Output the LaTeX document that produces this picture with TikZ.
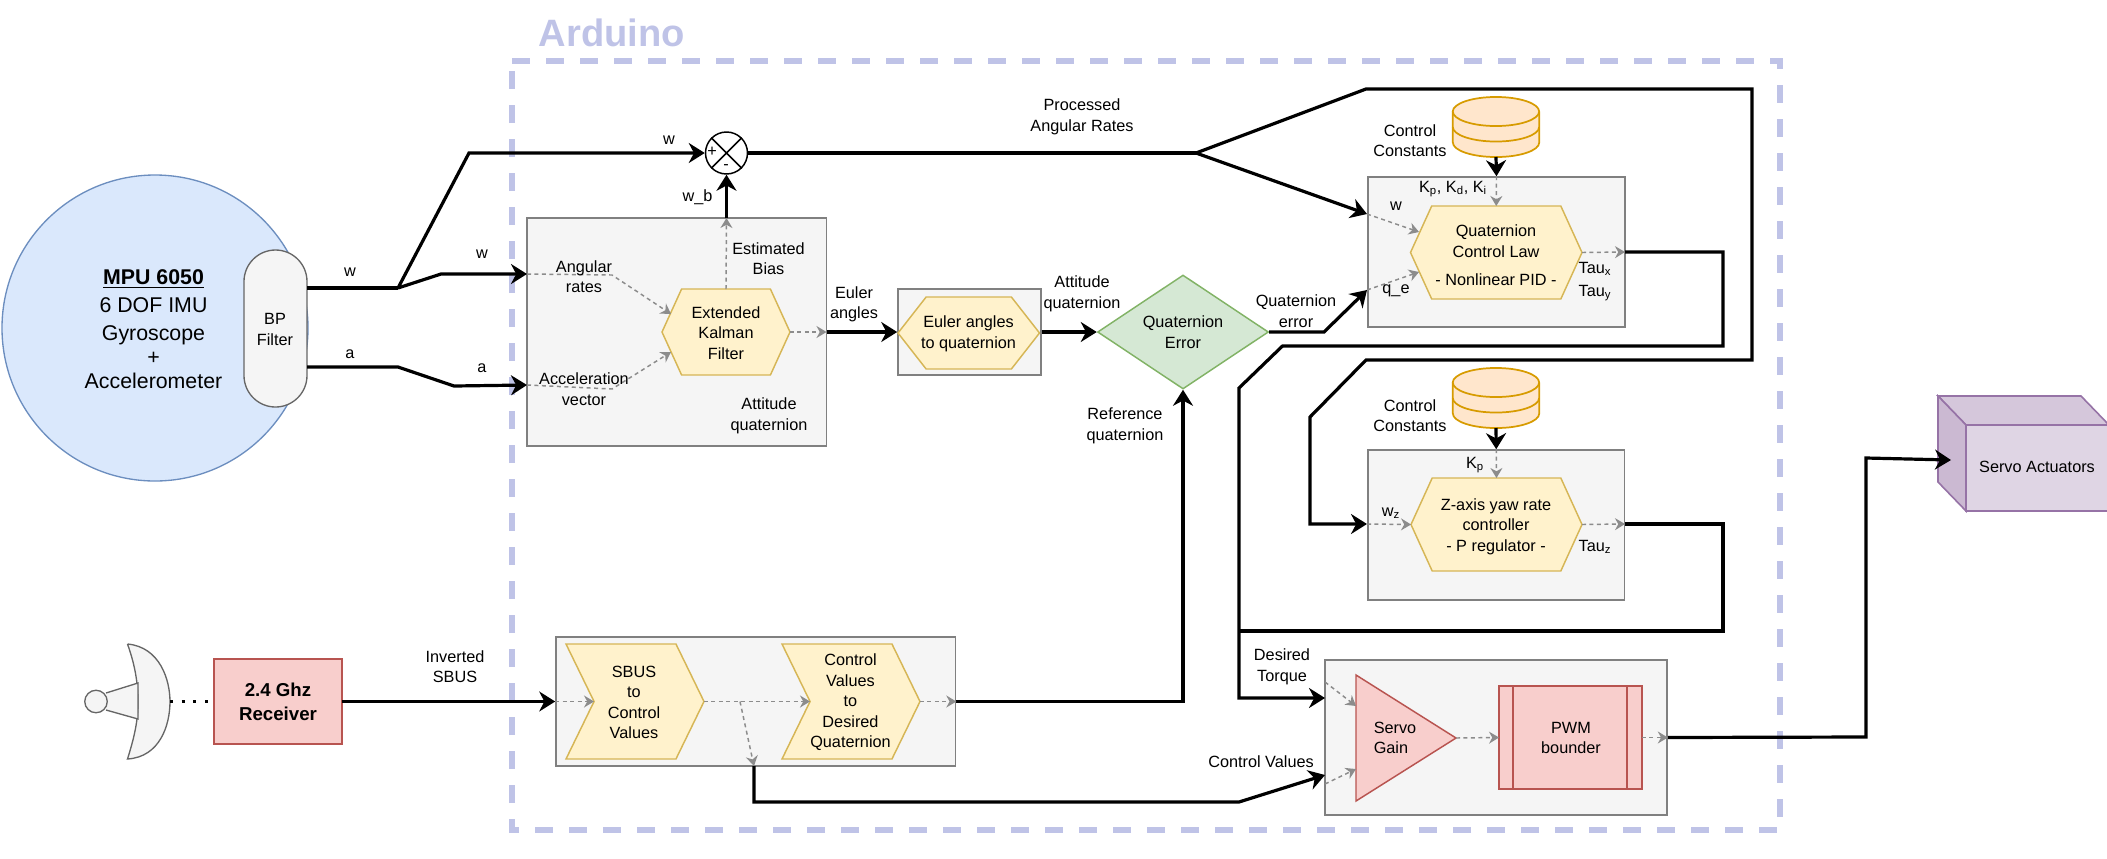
\documentclass[tikz,border=0pt]{standalone}
\usepackage{fontspec}
\setmainfont{Liberation Sans}
\usetikzlibrary{arrows.meta,shapes.geometric,shapes.symbols,shapes.misc}
\definecolor{ardu}{HTML}{BFC3E7}
\definecolor{lawLine}{HTML}{D6B656}
\definecolor{lawFill}{HTML}{FFF2CC}
\definecolor{pinkLine}{HTML}{B85450}
\definecolor{pinkFill}{HTML}{F8CECC}
\definecolor{dbLine}{HTML}{D79B00}
\definecolor{dbFill}{HTML}{FFE6CC}
\definecolor{cubeLine}{HTML}{9673A6}
\definecolor{mpuLine}{HTML}{6C8EBF}
\definecolor{mpuFill}{HTML}{DAE8FC}
\definecolor{errLine}{HTML}{82B366}
\definecolor{errFill}{HTML}{D5E8D4}
\tikzset{
  wh/.style 2 args={minimum width=#1*.75pt,minimum height=#2*.75pt},
  txt/.style={font=\fontsize{12.2}{15.4}\selectfont,align=center,inner sep=0pt},
  block/.style={draw=black!50,fill=black!4,line width=1.2pt,inner sep=0pt},
  law/.style={shape=signal,signal from=nowhere,signal to=east and west,signal pointer angle=#1,
    draw=lawLine,fill=lawFill,outer sep=0pt,line width=1.1pt,txt},
  chev/.style={shape=signal,signal from=west,signal to=east,signal pointer angle=128,
    draw=lawLine,fill=lawFill,outer sep=0pt,line width=1.1pt,txt},
  pinkbox/.style={draw=pinkLine,fill=pinkFill,outer sep=0pt,line width=1.1pt,txt},
  bus/.style={line width=2.4pt,-{Stealth[length=12pt,width=15pt]}},
  busline/.style={line width=2.4pt},
  flow/.style={black!45,line width=1.1pt,dash pattern=on 3pt off 2.6pt,-{Stealth[length=7.5pt,width=9pt]}},
  greyshape/.style={draw=black!60,fill=black!4,line width=1pt},
  datastore/.pic={
    \path[draw=dbLine,fill=dbFill,line width=1.3pt]
      (-43.25,-15.5) arc[start angle=180,end angle=0,x radius=32.4pt,y radius=10.9pt]
      -- (43.25,15.5) arc[start angle=0,end angle=-180,x radius=32.4pt,y radius=10.9pt] -- cycle;
    \path[draw=dbLine,line width=1.3pt]
      (-43.25,-15.5) arc[start angle=180,end angle=360,x radius=32.4pt,y radius=10.9pt]
      (-43.25,0) arc[start angle=180,end angle=360,x radius=32.4pt,y radius=10.9pt];
    \coordinate (-out) at (0,30);
  }
}
\begin{document}
\begin{tikzpicture}[x=.75pt,y=-.75pt]
  \useasboundingbox (0,0) rectangle (2107,858);
  \draw[ardu,line width=4.4pt,dash pattern=on 13.5pt off 12pt] (512,61) -- (1780,61) -- (1780,830) -- (512,830) -- cycle;
  \node[ardu,font=\fontsize{28.6}{30}\selectfont\bfseries,inner sep=0pt] (arduino) at (612,33) {Arduino};

  \node[circle,draw=mpuLine,fill=mpuFill,line width=1pt,minimum size=153*1.5pt,inner sep=0pt] (mpu) at (155,328) {};
  \node[font=\fontsize{16}{18}\selectfont,align=center,inner sep=0pt] (mpuText) at (153.5,329.5) {\underline{\textbf{MPU 6050}}\\[3pt]6 DOF IMU\\[3pt]Gyroscope\\+\\Accelerometer};
  \node[greyshape,rounded rectangle,rounded rectangle arc length=180,wh={157}{63},rotate=90,inner sep=0pt] (bp) at (275.5,328.5) {};
  \node[txt] (bpText) at (275,329.5) {BP\\Filter};

  \node[block,wh={299.5}{228}] (ekfBox) at (676.75,332) {};
  \node[block,wh={143}{86}] (eulerBox) at (969.5,332) {};
  \node[block,wh={257}{150}] (lawBox) at (1496.5,252) {};
  \node[block,wh={256.5}{150}] (yawBox) at (1496.25,525) {};
  \node[block,wh={399.5}{129}] (sbusBox) at (755.75,701.5) {};
  \node[block,wh={342}{155}] (servoBox) at (1496,737.5) {};

  \node[law=131,wh={128}{86}] (ekf) at (726,332) {};
  \node[txt] (ekfText) at (726,333) {Extended\\Kalman\\Filter};
  \node[law=104,wh={141.5}{72}] (euler) at (968.75,333) {};
  \node[txt] (eulerText) at (968.5,334) {Euler angles\\to quaternion};
  \node[law=131,wh={171.5}{93}] (ctrl) at (1496.25,252.5) {};
  \node[txt] (ctrlText) at (1496,255.5) {Quaternion\\Control Law\\[6pt]- Nonlinear PID -};
  \node[law=131,wh={171}{93}] (yaw) at (1496.5,524.5) {};
  \node[txt] (yawText) at (1496,526.5) {Z-axis yaw rate\\controller\\- P regulator -};
  \node[chev,wh={138}{115}] (conv) at (635,701.5) {};
  \node[txt] (convText) at (634,702.5) {SBUS\\to\\Control\\Values};
  \node[chev,wh={138}{115}] (desired) at (851,701.5) {};
  \node[txt] (desiredText) at (850.5,702.5) {Control\\Values\\to\\Desired\\Quaternion};

  \node[diamond,draw=errLine,fill=errFill,line width=1.1pt,aspect=1.5,wh={171}{114},txt] (qerr) at (1183,332) {Quaternion\\Error};
  \node[circle,draw,fill=white,line width=1.1pt,minimum size=42*.75pt,inner sep=0pt] (sum) at (726.5,153) {};
  \draw[line width=1.1pt] (sum.north west) -- (sum.south east) (sum.north east) -- (sum.south west);
  \node[txt] (sumPlus) at (712,152) {+};
  \node[txt] (sumMinus) at (726,167) {-};

  \pic (dbLaw) at (1496,127) {datastore};
  \pic (dbYaw) at (1496,398) {datastore};

  \node[pinkbox,wh={128}{85},font=\fontsize{14}{18}\selectfont\bfseries] (rx) at (278,701.5) {2.4 Ghz\\Receiver};
  \node[pinkbox,wh={143}{103}] (pwm) at (1570.5,737.5) {};
  \node[txt] (pwmText) at (1571,738) {PWM\\bounder};
  \draw[pinkLine,line width=1.1pt] (1513,686) -- (1513,789) (1627,686) -- (1627,789);
  \node[isosceles triangle,isosceles triangle stretches,pinkbox,anchor=apex,minimum height=100*.75pt,minimum width=126*.75pt] (gain) at (1456,738) {};
  \node[txt,align=left,anchor=west] (gainText) at (1373.5,738) {Servo\\Gain};

  \draw[greyshape] (127.5,644) .. controls (160,647) and (170,680) .. (170,701.5) .. controls (170,725) and (160,757) .. (127.5,759)
    .. controls (135,735) and (138,720) .. (138,701.5) .. controls (138,683) and (135,665) .. (127.5,644);
  \draw[greyshape] (106,693) -- (138,683) -- (138,719) -- (106,710);
  \node[circle,greyshape,minimum size=22.5*.75pt,inner sep=0pt] (feed) at (96,701.5) {};
  \coordinate (dishEdge) at (170,701.5);
  \draw[line width=2pt,dash pattern=on 2.2pt off 6.6pt] (dishEdge) -- (rx.west);

  \draw[draw=cubeLine,fill=cubeLine!30,line width=1.2pt] (1966,425) -- (2109,425) -- (2109,511) -- (1966,511) -- cycle;
  \draw[draw=cubeLine,fill=cubeLine!40,line width=1.2pt] (1938,396) -- (2081,396) -- (2109,425) -- (1966,425) -- cycle;
  \draw[draw=cubeLine,fill=cubeLine!50,line width=1.2pt] (1938,396) -- (1966,425) -- (1966,511) -- (1938,482) -- cycle;
  \node[txt] (servoAct) at (2037,467) {Servo Actuators};

  \coordinate (bpW) at (307,288);
  \coordinate (bpA) at (307,367);
  \coordinate (split) at (398,288);
  \coordinate (rateIn) at (527,274);
  \coordinate (accIn) at (527,385);
  \coordinate (biasOut) at (726.5,218);
  \coordinate (ekfOut) at (826.5,332);
  \coordinate (fork) at (1196,153);
  \coordinate (lawW) at (1367,214);
  \coordinate (lawQ) at (1367,290);
  \coordinate (lawOut) at (1625,252);
  \coordinate (yawIn) at (1367,524);
  \coordinate (yawOut) at (1625,524);
  \coordinate (servoT) at (1325,698);
  \coordinate (servoC) at (1325,775);
  \coordinate (ctrlOut) at (754,766);
  \coordinate (cubeIn) at (1951,460);

  \draw[busline] (bpW) -- (split);
  \draw[bus] (split) -- (469,153) -- (sum.west);
  \draw[bus] (split) -- (441,274) -- (rateIn);
  \draw[bus] (bpA) -- (398,367) -- (454,386) -- (accIn);
  \draw[bus] (biasOut) -- (sum.south);
  \draw[busline] (sum.east) -- (fork);
  \draw[bus] (fork) -- (1366,89) -- (1752,89) -- (1752,360) -- (1366,360) -- (1310,417) -- (1310,524) -- (yawIn);
  \draw[bus] (fork) -- (lawW);
  \draw[bus] (ekfOut) -- (eulerBox.west);
  \draw[bus] (eulerBox.east) -- (qerr.west);
  \draw[bus] (qerr.east) -- (1324,332) -- (lawQ);
  \draw[bus] (lawOut) -- (1723,252) -- (1723,346) -- (1282.5,346) -- (1239,388) -- (1239,698) -- (servoT);
  \draw[busline] (yawOut) -- (1723,524) -- (1723,631) -- (1239,631);
  \draw[bus] (dbLaw-out) -- (lawBox.north);
  \draw[bus] (dbYaw-out) -- (yawBox.north);
  \draw[bus] (rx.east) -- (sbusBox.west);
  \draw[bus] (sbusBox.east) -- (qerr.south |- sbusBox.east) -- (qerr.south);
  \draw[bus] (ctrlOut) -- (754,802) -- (1239,802) -- (servoC);
  \draw[bus] (servoBox.east) -- (1866,737) -- (1866,458) -- (cubeIn);

  \draw[flow] (rateIn) -- (612,275) -- (671,314);
  \draw[flow] (accIn) -- (612,389) -- (671,352);
  \draw[flow] (ekf.east) -- (ekfOut);
  \draw[flow] (ekf.north) -- (biasOut);
  \draw[flow] (lawBox.north) -- (ctrl.north);
  \draw[flow] (lawW) -- (1419,232);
  \draw[flow] (lawQ) -- (1419,272);
  \draw[flow] (ctrl.east) -- (lawOut);
  \draw[flow] (yawBox.north) -- (yaw.north);
  \draw[flow] (yawIn) -- (yaw.west);
  \draw[flow] (yaw.east) -- (yawOut);
  \draw[flow] (sbusBox.west) -- (594,701.5);
  \draw[flow] (conv.east) -- (810,701.5);
  \draw[flow] (740,701.5) -- (ctrlOut);
  \draw[flow] (desired.east) -- (sbusBox.east);
  \draw[flow] (1325,682) -- (1356,706);
  \draw[flow] (1325,784) -- (1356,769);
  \draw[flow] (gain.apex) -- (pwm.west);
  \draw[flow] (pwm.east) -- (servoBox.east);

  \node[txt] (lblW) at (350,272) {w};
  \node[txt] (lblA) at (350,354) {a};
  \node[txt] (lblRateW) at (482,254) {w};
  \node[txt] (lblAccA) at (482,368) {a};
  \node[txt] (lblSumW) at (669,140) {w};
  \node[txt] (lblBias) at (697.5,197) {w\_b};
  \node[txt] (lblRates) at (584,276.5) {Angular\\rates};
  \node[txt] (lblAcc) at (584,389) {Acceleration\\vector};
  \node[txt] (lblEst) at (768.5,258.5) {Estimated\\Bias};
  \node[txt] (lblAtt) at (769,416) {Attitude\\quaternion};
  \node[txt] (lblEuler) at (854,304.5) {Euler\\angles};
  \node[txt] (lblAtt2) at (1082,294) {Attitude\\quaternion};
  \node[txt] (lblErr) at (1296,311) {Quaternion\\error};
  \node[txt] (lblRef) at (1125,426) {Reference\\quaternion};
  \node[txt] (lblProc) at (1082,117) {Processed\\Angular Rates};
  \node[txt] (lblConst) at (1410,140.5) {Control\\Constants};
  \node[txt] (lblGains) at (1453,189) {K\textsubscript{p}, K\textsubscript{d}, K\textsubscript{i}};
  \node[txt] (lblLawW) at (1396,206) {w};
  \node[txt] (lblQe) at (1396,291) {q\_e};
  \node[txt] (lblTaux) at (1595,269) {Tau\textsubscript{x}};
  \node[txt] (lblTauy) at (1595,293) {Tau\textsubscript{y}};
  \node[txt] (lblConst2) at (1410,415.5) {Control\\Constants};
  \node[txt] (lblKp) at (1475,465) {K\textsubscript{p}};
  \node[txt] (lblWz) at (1391,513) {w\textsubscript{z}};
  \node[txt] (lblTauz) at (1595,547) {Tau\textsubscript{z}};
  \node[txt] (lblTorque) at (1282,667) {Desired\\Torque};
  \node[txt] (lblCtrl) at (1261,762) {Control Values};
  \node[txt] (lblSbus) at (455,666.5) {Inverted\\SBUS};
\end{tikzpicture}
\end{document}
